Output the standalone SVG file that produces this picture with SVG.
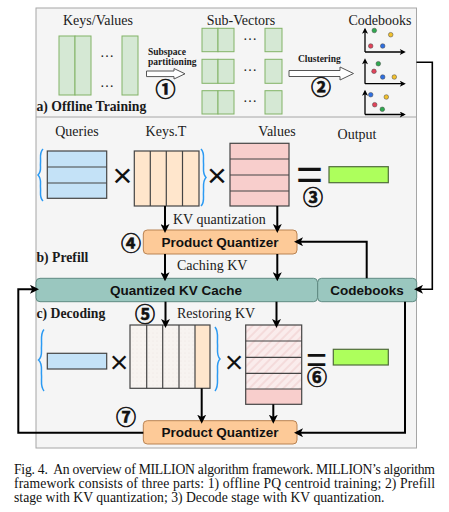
<svg xmlns="http://www.w3.org/2000/svg" width="449" height="512" viewBox="0 0 449 512">
<style>
.lbl{font-family:"Liberation Serif","Times New Roman",serif;font-size:14px;fill:#1a1a1a}
.bl{font-family:"Liberation Serif","Times New Roman",serif;font-weight:bold;fill:#1a1a1a}
.sb{font-family:"Liberation Sans",Arial,sans-serif;font-weight:bold;font-size:13.5px;fill:#111;text-anchor:middle}
.cn{font-family:"Noto Sans CJK JP","Noto Sans CJK SC",sans-serif;font-weight:bold;font-size:20px;text-anchor:middle;fill:#111;stroke:#111;stroke-width:0.6}
.op{font-family:"Liberation Sans",Arial,sans-serif;fill:#111;text-anchor:middle}
.dots{font-family:"Liberation Serif",serif;font-size:14px;fill:#222;text-anchor:middle}
.grn{fill:#d5e8d4;stroke:#82b366;stroke-width:1}
.cell{stroke:#444;stroke-width:1.2}
.conn{fill:none;stroke:#000;stroke-width:2}
.thin{fill:none;stroke:#000;stroke-width:1.6}
.brace{fill:none;stroke:#2b9af3;stroke-width:1.5}
.axis{fill:none;stroke:#000;stroke-width:1.3}
.cap{font-family:"Liberation Serif","Times New Roman",serif;font-size:13.7px;fill:#111}
</style>
<defs>
<marker id="ah" viewBox="0 0 10 10" refX="6.7" refY="5" markerWidth="9" markerHeight="9" markerUnits="userSpaceOnUse" orient="auto">
<path d="M0,0 L10,5 L0,10 L2.5,5 z" fill="#000"/>
</marker>
<marker id="ax" viewBox="0 0 10 10" refX="7" refY="5" markerWidth="7" markerHeight="6" markerUnits="userSpaceOnUse" orient="auto">
<path d="M0,0 L10,5 L0,10 L2.5,5 z" fill="#000"/>
</marker>
<pattern id="hatch" width="6" height="6" patternUnits="userSpaceOnUse" patternTransform="rotate(45)">
<rect width="6" height="6" fill="#faecec"/>
<line x1="1" y1="0" x2="1" y2="6" stroke="#f2d6d6" stroke-width="1.5"/>
</pattern>
<pattern id="speck" width="4" height="4" patternUnits="userSpaceOnUse">
<rect width="4" height="4" fill="#f7f3f0"/>
<circle cx="1" cy="1" r="0.5" fill="#ece4df"/>
</pattern>
</defs>

<rect x="0" y="0" width="449" height="512" fill="#fff"/>

<g id="frame">
<rect x="36" y="8" width="380.5" height="440" fill="#f5f5f5" stroke="#a6a6a6" stroke-width="1"/>
<line x1="36" y1="117" x2="416.5" y2="117" stroke="#a6a6a6" stroke-width="1"/>
<text class="bl" x="36.5" y="111" font-size="13.7">a) Offline Training</text>
<text class="bl" x="36.5" y="261.5" font-size="13.7">b) Prefill</text>
<text class="bl" x="36.5" y="318" font-size="13.7">c) Decoding</text>
</g>

<g id="keys-values">
<text class="lbl" x="98" y="25" text-anchor="middle">Keys/Values</text>
<rect class="grn" x="59" y="36" width="16" height="59"/>
<rect class="grn" x="75" y="36" width="16" height="59"/>
<rect class="grn" x="122" y="36" width="16" height="59"/>
<text class="dots" x="107" y="56.5">…</text>
<text class="dots" x="107" y="86.5">…</text>
</g>

<g id="subspace-partitioning">
<text class="bl" x="148" y="54.5" font-size="9.5">Subspace</text>
<text class="bl" x="148" y="64.5" font-size="9.5">partitioning</text>
<polygon points="146.5,71 174,71 174,68.5 185,73.8 174,79 174,76.6 146.5,76.6" fill="#fff" stroke="#555" stroke-width="1"/>
<text class="cn" x="165.5" y="97">①</text>
</g>

<g id="sub-vectors">
<text class="lbl" x="241" y="25" text-anchor="middle">Sub-Vectors</text>
<rect class="grn" x="202" y="28.3" width="16" height="23.4"/>
<rect class="grn" x="218" y="28.3" width="16" height="23.4"/>
<rect class="grn" x="265" y="28.3" width="17" height="23.4"/>
<rect class="grn" x="202" y="59.3" width="16" height="24"/>
<rect class="grn" x="218" y="59.3" width="16" height="24"/>
<rect class="grn" x="265" y="59.3" width="17" height="24"/>
<rect class="grn" x="202" y="90.7" width="16" height="23.3"/>
<rect class="grn" x="218" y="90.7" width="16" height="23.3"/>
<rect class="grn" x="265" y="90.7" width="17" height="23.3"/>
<text class="dots" x="250" y="39.5">…</text>
<text class="dots" x="250" y="71">…</text>
<text class="dots" x="250" y="101.5">…</text>
</g>

<g id="clustering">
<text class="bl" x="298" y="61.5" font-size="9.5">Clustering</text>
<polygon points="289,70.5 340,70.5 340,67 353.5,73.5 340,80 340,76.5 289,76.5" fill="#fff" stroke="#555" stroke-width="1"/>
<text class="cn" x="321" y="95">②</text>
</g>

<g id="codebooks-plots">
<text class="lbl" x="380" y="25" text-anchor="middle">Codebooks</text>
<path class="axis" d="M365,52 V29.5" marker-end="url(#ax)"/>
<path class="axis" d="M365,52 H404" marker-end="url(#ax)"/>
<path class="axis" d="M365,83.7 V60" marker-end="url(#ax)"/>
<path class="axis" d="M365,83.7 H404" marker-end="url(#ax)"/>
<path class="axis" d="M365,114.5 V91.5" marker-end="url(#ax)"/>
<path class="axis" d="M365,114.5 H404" marker-end="url(#ax)"/>
<g stroke="#444" stroke-width="0.5">
<circle cx="374.3" cy="30.5" r="2.3" fill="#2fa84f"/>
<circle cx="390.7" cy="34.7" r="2.3" fill="#f2c12e"/>
<circle cx="370.7" cy="46" r="2.3" fill="#e0435a"/>
<circle cx="382.7" cy="46" r="2.3" fill="#2f6fe0"/>
<circle cx="378.3" cy="63.7" r="2.3" fill="#2fa84f"/>
<circle cx="374" cy="71.3" r="2.3" fill="#e0435a"/>
<circle cx="382.7" cy="77" r="2.3" fill="#2f6fe0"/>
<circle cx="394.3" cy="77" r="2.3" fill="#f2c12e"/>
<circle cx="370.7" cy="94.7" r="2.3" fill="#2f6fe0"/>
<circle cx="386.3" cy="97" r="2.3" fill="#f2c12e"/>
<circle cx="374.7" cy="104.7" r="2.3" fill="#e0435a"/>
<circle cx="382.3" cy="109.3" r="2.3" fill="#2fa84f"/>
</g>
</g>

<g id="prefill-queries">
<text class="lbl" x="77" y="135.5" text-anchor="middle">Queries</text>
<path class="brace" d="M43,149 C39,153 41,158 40.5,163 C40,168 42,171 38,175 C42,179 40,183 40.5,188 C41,193 39,197 43,201"/>
<rect x="47.3" y="151" width="59.4" height="47.3" fill="#c4e2f7" class="cell"/>
<line class="cell" x1="47.3" y1="167" x2="106.7" y2="167"/>
<line class="cell" x1="47.3" y1="183" x2="106.7" y2="183"/>
<text class="op" x="122.5" y="186.5" font-size="34">×</text>
</g>

<g id="prefill-keys">
<text class="lbl" x="166" y="135.5" text-anchor="middle">Keys.T</text>
<rect x="134.3" y="151" width="64.7" height="55" fill="#ffe6cc" class="cell"/>
<line class="cell" x1="150.3" y1="151" x2="150.3" y2="206"/>
<line class="cell" x1="166.3" y1="151" x2="166.3" y2="206"/>
<line class="cell" x1="182.5" y1="151" x2="182.5" y2="206"/>
<path class="brace" d="M201,149 C205,153 203,158 203.5,163 C204,168 202,173 206,177.5 C202,182 204,187 203.5,192 C203,197 205,202 201,206"/>
<text class="op" x="217" y="186.5" font-size="34">×</text>
</g>

<g id="prefill-values">
<text class="lbl" x="277" y="135.5" text-anchor="middle">Values</text>
<rect x="230" y="143.3" width="59" height="62.7" fill="#f8cecc" class="cell"/>
<line class="cell" x1="230" y1="159" x2="289" y2="159"/>
<line class="cell" x1="230" y1="175" x2="289" y2="175"/>
<line class="cell" x1="230" y1="191" x2="289" y2="191"/>
<text class="op" x="309.5" y="190.5" font-size="44" transform="translate(309.5 0) scale(1.05 1) translate(-309.5 0)">=</text>
<text class="cn" x="313" y="204.5">③</text>
</g>

<g id="prefill-output">
<text class="lbl" x="357" y="138.5" text-anchor="middle">Output</text>
<rect x="329" y="166.7" width="59.3" height="16" fill="#adff5c" stroke="#4f6b3a" stroke-width="1.2"/>
</g>

<g id="prefill-pq">
<rect x="143.3" y="230" width="153.7" height="24" rx="4" fill="#fdca98" stroke="#b98352" stroke-width="1"/>
<text class="sb" x="220" y="246.6">Product Quantizer</text>
<text class="cn" x="131" y="250.5">④</text>
</g>

<g id="kv-cache">
<rect x="36" y="278.3" width="281.5" height="23.4" rx="4" fill="#9ac7bf" stroke="#5f8a82" stroke-width="1"/>
<text class="sb" x="176" y="294.5">Quantized KV Cache</text>
</g>

<g id="codebooks">
<rect x="317.7" y="278.3" width="99" height="23.4" rx="4" fill="#9ac7bf" stroke="#5f8a82" stroke-width="1"/>
<text class="sb" x="367" y="294.5">Codebooks</text>
</g>

<g id="decode-query">
<path class="brace" d="M44,329.5 C40,334 42,340 41.5,346 C41,352 43,356 38.5,360 C43,364 41,369 41.5,375 C42,381 40,386 44,391"/>
<rect x="47.3" y="353.3" width="59.4" height="15.7" fill="#c4e2f7" class="cell"/>
<text class="op" x="119" y="373" font-size="32">×</text>
</g>

<g id="decode-keys">
<rect x="130" y="325" width="65" height="63.3" fill="url(#speck)"/>
<rect x="195" y="325" width="15" height="63.3" fill="#ffe6cc"/>
<rect x="130" y="325" width="80" height="63.3" fill="none" class="cell"/>
<line class="cell" x1="146.7" y1="325" x2="146.7" y2="388.3"/>
<line class="cell" x1="162.7" y1="325" x2="162.7" y2="388.3"/>
<line class="cell" x1="179" y1="325" x2="179" y2="388.3"/>
<line class="cell" x1="195" y1="325" x2="195" y2="388.3"/>
<path class="brace" d="M215,327 C219,332 217,338 217.5,344 C218,350 216,355 220,359 C216,363 218,368 217.5,374 C217,380 219,386 215,391"/>
<text class="op" x="234" y="372.5" font-size="32">×</text>
<text class="cn" x="145" y="322">⑤</text>
</g>

<g id="decode-values">
<rect x="245.7" y="325" width="56" height="64" fill="url(#hatch)"/>
<rect x="245.7" y="389" width="56" height="15.3" fill="#f8cecc"/>
<rect x="245.7" y="325" width="56" height="79.3" fill="none" class="cell"/>
<line class="cell" x1="245.7" y1="341" x2="301.7" y2="341"/>
<line class="cell" x1="245.7" y1="357.3" x2="301.7" y2="357.3"/>
<line class="cell" x1="245.7" y1="373.3" x2="301.7" y2="373.3"/>
<line class="cell" x1="245.7" y1="389" x2="301.7" y2="389"/>
<text class="op" x="316.5" y="371.5" font-size="36">=</text>
<text class="cn" x="317" y="385">⑥</text>
</g>

<g id="decode-output">
<rect x="333.3" y="349.3" width="55" height="15.7" fill="#adff5c" stroke="#4f6b3a" stroke-width="1.2"/>
</g>

<g id="decode-pq">
<rect x="143.3" y="420.7" width="153.7" height="23.3" rx="4" fill="#fdca98" stroke="#b98352" stroke-width="1"/>
<text class="sb" x="220" y="436.6">Product Quantizer</text>
<text class="cn" x="126" y="425">⑦</text>
</g>

<g id="connectors">
<path class="thin" d="M416.5,62.3 H432.3 V289.3 H417" marker-end="url(#ah)"/>
<path class="conn" d="M165,206 V230" marker-end="url(#ah)"/>
<path class="conn" d="M277.3,206 V230" marker-end="url(#ah)"/>
<text class="lbl" x="173" y="223.5">KV quantization</text>
<path class="conn" d="M366.7,278.3 V241.7 H297" marker-end="url(#ah)"/>
<path class="conn" d="M165,254 V278.3" marker-end="url(#ah)"/>
<path class="conn" d="M277.3,254 V278.3" marker-end="url(#ah)"/>
<text class="lbl" x="177" y="270">Caching KV</text>
<path class="conn" d="M165.5,301.7 V325" marker-end="url(#ah)"/>
<path class="conn" d="M276.5,301.7 V325" marker-end="url(#ah)"/>
<text class="lbl" x="177" y="318">Restoring KV</text>
<path class="conn" d="M201.7,388.3 V420.7" marker-end="url(#ah)"/>
<path class="conn" d="M273.3,404.3 V420.7" marker-end="url(#ah)"/>
<path class="conn" d="M405,301.7 V432.7 H297" marker-end="url(#ah)"/>
<path class="conn" d="M143.3,432.7 H18.3 V289.3 H36" marker-end="url(#ah)"/>
</g>

<g id="caption">
<text class="cap" x="14" y="473.5" textLength="421" lengthAdjust="spacing" xml:space="preserve">Fig. 4.  An overview of MILLION algorithm framework. MILLION’s algorithm</text>
<text class="cap" x="14" y="487.7" textLength="421" lengthAdjust="spacing">framework consists of three parts: 1) offline PQ centroid training; 2) Prefill</text>
<text class="cap" x="14" y="501.8">stage with KV quantization; 3) Decode stage with KV quantization.</text>
</g>
</svg>
